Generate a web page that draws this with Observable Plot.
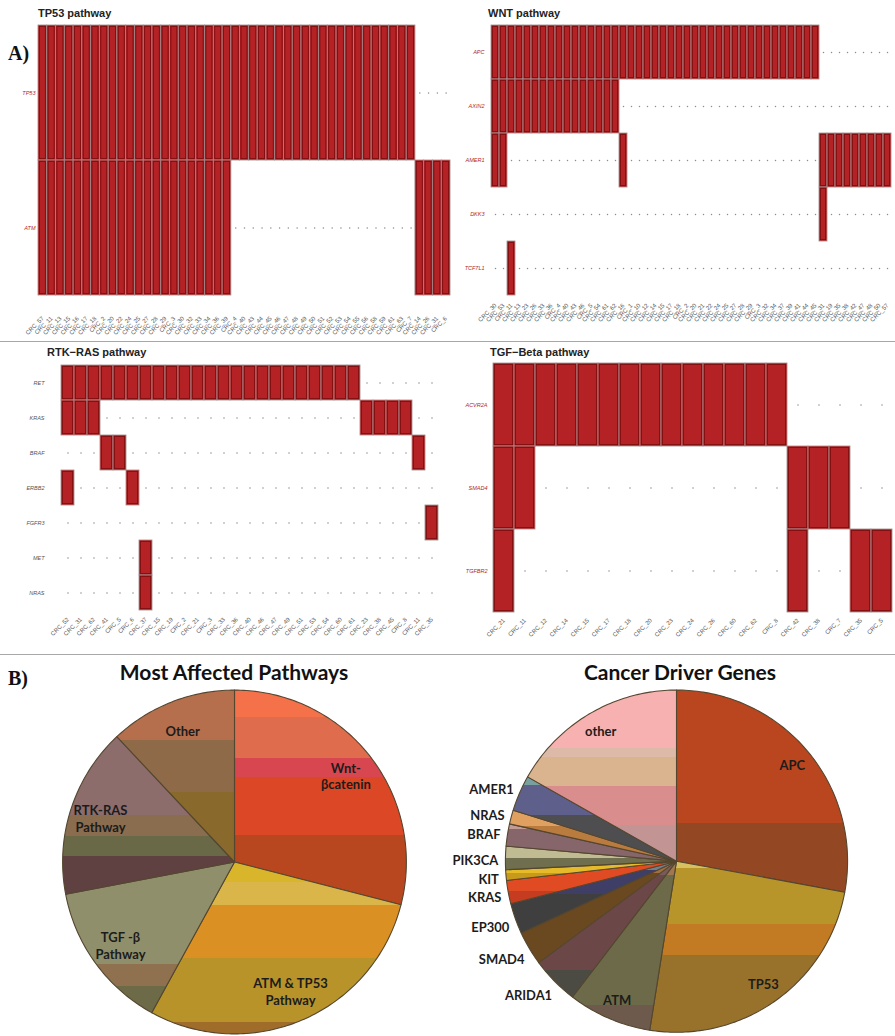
<!DOCTYPE html>
<html>
<head>
<meta charset="utf-8">
<script src="https://cdn.jsdelivr.net/npm/d3@7"></script>
<script src="https://cdn.jsdelivr.net/npm/@observablehq/plot@0.6"></script>
<style>
  body { margin: 0; background: #fff; }
  #page { position: relative; width: 895px; height: 1036px; overflow: hidden; background: #fff;
          font-family: "Liberation Sans", Arial, sans-serif; }
  .abs { position: absolute; }
  .ptitle { position: absolute; font-weight: bold; font-size: 11px; color: #222; line-height: 13px; white-space: nowrap; }
  .tag { position: absolute; font-family: "Liberation Serif", "DejaVu Serif", serif; font-weight: bold; font-size: 20px; color: #111; }
  .rule { position: absolute; left: 0; width: 895px; height: 0; border-top: 1.5px solid #a8a8a8; }
  .pie-title { position: absolute; font-family: Lato, "Open Sans", sans-serif; font-weight: bold; font-size: 21px;
               color: #111; text-align: center; width: 300px; line-height: 22px; }
</style>
</head>
<body>
<div id="page"></div>
<script>
// ---------- Pathway mutation matrices (1 = mutated sample) ----------
const tp53Genes = ["TP53", "ATM"];
const tp53Samples = [
  "CRC_57","CRC_11","CRC_13","CRC_15","CRC_16","CRC_17","CRC_18","CRC_2","CRC_20","CRC_22","CRC_24",
  "CRC_25","CRC_27","CRC_28","CRC_29","CRC_3","CRC_30","CRC_32","CRC_33","CRC_34","CRC_36","CRC_39",
  "CRC_4","CRC_40","CRC_43","CRC_44","CRC_45","CRC_46","CRC_47","CRC_48","CRC_49","CRC_50","CRC_51",
  "CRC_52","CRC_53","CRC_54","CRC_55","CRC_56","CRC_58","CRC_59","CRC_61","CRC_63","CRC_7",
  "CRC_14","CRC_26","CRC_31","CRC_6"
];
const tp53Calls = [
  "11111111111111111111111111111111111111111110000",
  "11111111111111111111110000000000000000000001111"
];

const wntGenes = ["APC", "AXIN2", "AMER1", "DKK3", "TCF7L1"];
const wntSamples = [
  "CRC_30","CRC_53","CRC_11","CRC_13","CRC_23","CRC_26","CRC_33","CRC_36","CRC_4","CRC_40","CRC_43",
  "CRC_46","CRC_5","CRC_54","CRC_61","CRC_62","CRC_16","CRC_1","CRC_10","CRC_12","CRC_14","CRC_15",
  "CRC_17","CRC_18","CRC_2","CRC_20","CRC_21","CRC_22","CRC_24","CRC_25","CRC_27","CRC_28","CRC_29",
  "CRC_3","CRC_32","CRC_34","CRC_37","CRC_39","CRC_41","CRC_44","CRC_45","CRC_31","CRC_19","CRC_35",
  "CRC_38","CRC_42","CRC_47","CRC_48","CRC_50","CRC_57"
];
const wntCalls = [
  "11111111111111111111111111111111111111111000000000",
  "11111111111111110000000000000000000000000000000000",
  "11000000000000001000000000000000000000000111111111",
  "00000000000000000000000000000000000000000100000000",
  "00100000000000000000000000000000000000000000000000"
];

const rtkGenes = ["RET", "KRAS", "BRAF", "ERBB2", "FGFR3", "MET", "NRAS"];
const rtkSamples = [
  "CRC_52","CRC_31","CRC_62","CRC_41","CRC_5","CRC_6","CRC_37","CRC_15","CRC_19","CRC_2","CRC_21",
  "CRC_3","CRC_33","CRC_36","CRC_40","CRC_46","CRC_47","CRC_49","CRC_51","CRC_53","CRC_54","CRC_60",
  "CRC_61","CRC_23","CRC_38","CRC_45","CRC_8","CRC_11","CRC_35"
];
const rtkCalls = [
  "11111111111111111111111000000",
  "11100000000000000000000111100",
  "00011000000000000000000000010",
  "10000100000000000000000000000",
  "00000000000000000000000000001",
  "00000010000000000000000000000",
  "00000010000000000000000000000"
];

const tgfGenes = ["ACVR2A", "SMAD4", "TGFBR2"];
const tgfSamples = [
  "CRC_21","CRC_11","CRC_12","CRC_14","CRC_15","CRC_17","CRC_18","CRC_20","CRC_23","CRC_24",
  "CRC_26","CRC_60","CRC_62","CRC_8","CRC_42","CRC_38","CRC_7","CRC_35","CRC_5"
];
const tgfCalls = [
  "1111111111111100000",
  "1100000000000011100",
  "1000000000000010011"
];

// ---------- Pie chart shares (percent) ----------
const pathwayNames = ["Wnt-\nβcatenin", "ATM & TP53\nPathway", "TGF -β\nPathway", "RTK-RAS\nPathway", "Other"];
const pathwayShares = [29, 29, 14, 16, 12];

const driverGenes = ["APC", "TP53", "ATM", "ARIDA1", "SMAD4", "EP300", "KRAS", "KIT", "PIK3CA", "BRAF", "NRAS", "AMER1", "other"];
const driverShares = [27.9, 24.6, 7.9, 4.5, 3.2, 2.9, 2.2, 1.0, 2.2, 2.1, 1.3, 3.4, 16.8];

// ---------- Slice shading: horizontal colour bands [offset, colour] ----------
const pathwayBands = [
  [[0, "#f4714a"], [0.126, "#df6d4d"], [0.316, "#d8464f"], [0.405, "#dc4725"], [0.674, "#b8461f"]],
  [[0, "#d9b52c"], [0.116, "#dab64a"], [0.25, "#db9024"], [0.56, "#b8932a"], [0.93, "#a06c2a"]],
  [[0, "#908f6c"], [0.68, "#8f7150"], [0.82, "#6c6a47"]],
  [[0, "#8d6c6c"], [0.5, "#8a6d4e"], [0.63, "#6a6947"], [0.76, "#5f4141"]],
  [[0, "#b66f4d"], [0.29, "#8e6a48"], [0.59, "#8a6a2c"]]
];
const driverBands = [
  [[0, "#b9461f"], [0.66, "#934823"]],
  [[0, "#d8c060"], [0.04, "#b7952b"], [0.37, "#c27b23"], [0.55, "#98712b"]],
  [[0, "#a07850"], [0.08, "#6c6a48"], [0.85, "#6e5a4c"]],
  [[0, "#7a5a5a"], [0.1, "#6b4747"], [0.8, "#4b4b44"]],
  [[0, "#a07040"], [0.12, "#6a4820"]],
  [[0, "#72808e"], [0.12, "#3e3e66"], [0.45, "#3f3f3f"]],
  [[0, "#e04b24"], [0.7, "#c63c20"]],
  [[0, "#e6bb2a"], [0.6, "#c89a1c"]],
  [[0, "#c1bb94"], [0.5, "#6f6e4f"]],
  [[0, "#c29a96"], [0.15, "#86666a"]],
  [[0, "#e0a060"], [0.3, "#b97b3e"]],
  [[0, "#79a0a0"], [0.1, "#5f5f8c"], [0.45, "#4e4e50"]],
  [[0, "#f7b1b1"], [0.34, "#ddbaa8"], [0.39, "#dab48f"], [0.56, "#d98d8d"], [0.79, "#c29494"]]
];

const page = document.getElementById("page");
const FONT = "Liberation Sans, Arial, sans-serif";

function place(node, left, top) {
  const wrap = document.createElement("div");
  wrap.className = "abs";
  wrap.style.left = left + "px";
  wrap.style.top = top + "px";
  wrap.appendChild(node);
  page.appendChild(wrap);
}
function addDiv(cls, text, left, top) {
  const d = document.createElement("div");
  d.className = cls;
  d.textContent = text;
  d.style.left = left + "px";
  d.style.top = top + "px";
  page.appendChild(d);
  return d;
}

// Oncoprint-style matrix: filled cells for mutated samples, small dots otherwise
function oncoprint({genes, samples, calls, width, height, margins, labelColor, tickPadding}) {
  const hits = [], blanks = [];
  genes.forEach((gene, i) => {
    [...calls[i]].forEach((c, j) => (c === "1" ? hits : blanks).push({gene, sample: samples[j]}));
  });
  const [mt, mr, mb, ml] = margins;
  return Plot.plot({
    width, height,
    marginTop: mt, marginRight: mr, marginBottom: mb, marginLeft: ml,
    style: {background: "transparent", fontFamily: FONT, overflow: "visible"},
    x: {type: "band", domain: samples, padding: 0},
    y: {type: "band", domain: genes, padding: 0},
    marks: [
      Plot.axisX({tickRotate: -45, tickSize: 0, tickPadding, fontSize: 6, color: "#555", label: null}),
      Plot.axisY({tickSize: 0, tickPadding: 3, fontSize: 5.5, fontStyle: "italic", color: labelColor, label: null}),
      Plot.dot(blanks, {x: "sample", y: "gene", r: 0.75, fill: "#8c8c8c", stroke: "none"}),
      Plot.cell(hits, {x: "sample", y: "gene", fill: "#b42226", stroke: "#a08888", strokeWidth: 0.8}),
      Plot.cell(hits, {x: "sample", y: "gene", fill: "none", stroke: "#7c0d10", strokeWidth: 0.9, inset: 1.4})
    ]
  });
}

// Gradient definitions used as slice fills
function gradientDefs(prefix, palettes) {
  return () => {
    const ns = "http://www.w3.org/2000/svg";
    const defs = document.createElementNS(ns, "defs");
    palettes.forEach((bands, i) => {
      const g = document.createElementNS(ns, "linearGradient");
      g.setAttribute("id", prefix + i);
      g.setAttribute("x1", "0"); g.setAttribute("y1", "0");
      g.setAttribute("x2", "0"); g.setAttribute("y2", "1");
      bands.forEach(([offset, color], k) => {
        const end = k + 1 < bands.length ? bands[k + 1][0] : 1;
        for (const o of [offset, end]) {
          const s = document.createElementNS(ns, "stop");
          s.setAttribute("offset", o);
          s.setAttribute("stop-color", color);
          g.appendChild(s);
        }
      });
      defs.appendChild(g);
    });
    return defs;
  };
}

// Pie drawn in a unit-circle coordinate system through Plot's linear scales
function pieChart({names, shares, bands, prefix, labelRadius, outerLabels}) {
  const arcs = d3.pie().sort(null).value(d => d)(shares);
  const slices = arcs.map(a => {
    const pts = [{x: 0, y: 0}];
    const n = Math.max(2, Math.ceil((a.endAngle - a.startAngle) / (Math.PI / 180)));
    for (let k = 0; k <= n; ++k) {
      const t = a.startAngle + (a.endAngle - a.startAngle) * k / n;
      pts.push({x: Math.sin(t), y: Math.cos(t)});
    }
    pts.push({x: 0, y: 0});
    return pts;
  });
  const labels = arcs.map((a, i) => {
    const mid = (a.startAngle + a.endAngle) / 2;
    const outside = outerLabels && (a.endAngle - a.startAngle) < 20 * Math.PI / 180;
    const r = outside ? 1.1 : labelRadius;
    return {name: names[i], x: r * Math.sin(mid), y: r * Math.cos(mid), outside};
  });
  return Plot.plot({
    width: 440, height: 361,
    margin: 0,
    style: {background: "transparent", overflow: "visible"},
    x: {domain: [-1.28, 1.28], axis: null},
    y: {domain: [-1.05, 1.05], axis: null},
    marks: [
      gradientDefs(prefix, bands),
      ...slices.map((pts, i) => Plot.line(pts, {
        x: "x", y: "y", fill: `url(#${prefix}${i})`,
        stroke: "#54462f", strokeWidth: 1.1, strokeLinejoin: "round"
      })),
      Plot.text(labels.filter(d => !d.outside), {
        x: "x", y: "y", text: "name", fontFamily: "Lato", fontWeight: "bold",
        fontSize: 13, fill: "#1c1c1c", lineHeight: 1.3
      }),
      Plot.text(labels.filter(d => d.outside), {
        x: "x", y: "y", text: "name", textAnchor: "end", dx: 10, dy: 3, fontFamily: "Lato", fontWeight: "bold",
        fontSize: 13, fill: "#1c1c1c"
      })
    ]
  });
}

// ---------- Panel A: pathway oncoprints ----------
place(oncoprint({genes: tp53Genes, samples: tp53Samples, calls: tp53Calls,
  width: 455, height: 340, margins: [25, 5, 45, 38], labelColor: "#b0262a", tickPadding: 22}), 0, 0);
place(oncoprint({genes: wntGenes, samples: wntSamples, calls: wntCalls,
  width: 440, height: 340, margins: [25, 0, 45, 32], labelColor: "#b0262a", tickPadding: 9}), 455, 0);
place(oncoprint({genes: rtkGenes, samples: rtkSamples, calls: rtkCalls,
  width: 455, height: 313, margins: [21, 4, 43, 47], labelColor: "#555", tickPadding: 6}), 0, 342);
place(oncoprint({genes: tgfGenes, samples: tgfSamples, calls: tgfCalls,
  width: 440, height: 313, margins: [21, 0, 43, 35], labelColor: "#b0262a", tickPadding: 7}), 455, 342);

addDiv("ptitle", "TP53 pathway", 38, 7);
addDiv("ptitle", "WNT pathway", 488, 7);
addDiv("ptitle", "RTK\u2212RAS pathway", 47, 346);
addDiv("ptitle", "TGF\u2212Beta pathway", 490, 346);

const r1 = document.createElement("div"); r1.className = "rule"; r1.style.top = "341px"; page.appendChild(r1);
const r2 = document.createElement("div"); r2.className = "rule"; r2.style.top = "654px"; page.appendChild(r2);

addDiv("tag", "A)", 8, 42);
addDiv("tag", "B)", 8, 667);

// ---------- Panel B: pie charts ----------
place(pieChart({names: pathwayNames, shares: pathwayShares, bands: pathwayBands,
  prefix: "pw", labelRadius: 0.82, outerLabels: false}), 14, 681);
place(pieChart({names: driverGenes, shares: driverShares, bands: driverBands,
  prefix: "dg", labelRadius: 0.88, outerLabels: true}), 457, 681);

addDiv("pie-title", "Most Affected Pathways", 84, 661);
addDiv("pie-title", "Cancer Driver Genes", 530, 661);
</script>
</body>
</html>
